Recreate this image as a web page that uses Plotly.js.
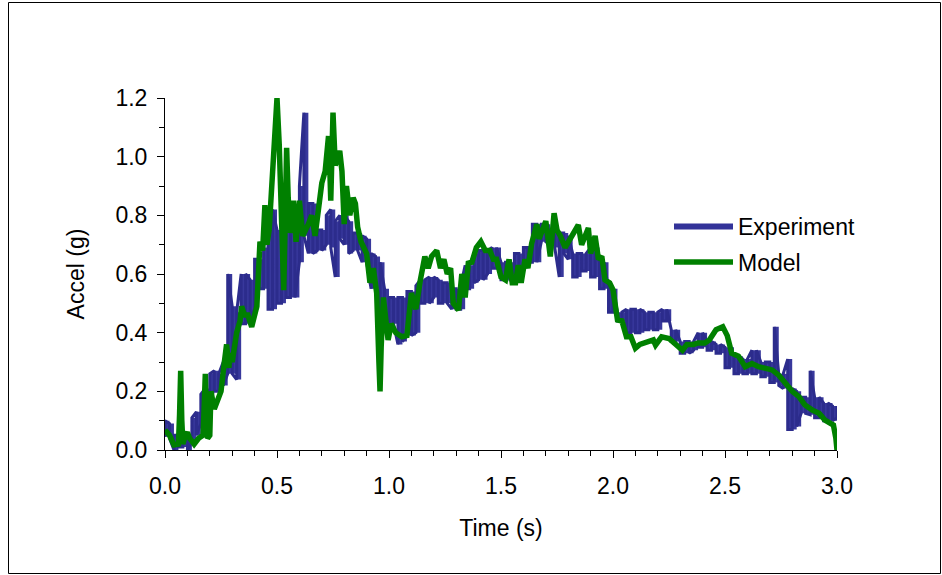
<!DOCTYPE html>
<html>
<head>
<meta charset="utf-8">
<script src="https://cdn.plot.ly/plotly-3.0.1.min.js"></script>
<style>
html,body{margin:0;padding:0;background:#fff;}
#chart{width:942px;height:575px;}
</style>
</head>
<body>
<div id="chart"></div>
<script>
// Experiment: sampled every 0.02 s, lower and upper envelope of the noisy signal (g)
var expStep = 0.02;
var expLow = [0.045,0.04,0.0,0.01,0.01,0.0,0.03,0.05,0.09,0.12,
  0.19,0.20,0.20,0.22,0.26,0.26,0.24,0.43,0.43,0.45,
  0.48,0.55,0.55,0.48,0.48,0.50,0.50,0.52,0.52,0.52,
  0.64,0.73,0.67,0.67,0.68,0.68,0.70,0.69,0.59,0.72,
  0.70,0.67,0.68,0.68,0.64,0.64,0.55,0.55,0.42,0.42,
  0.43,0.43,0.36,0.37,0.39,0.39,0.40,0.50,0.50,0.50,
  0.52,0.50,0.50,0.50,0.48,0.48,0.48,0.55,0.55,0.57,
  0.58,0.58,0.60,0.62,0.62,0.58,0.58,0.58,0.58,0.58,
  0.62,0.64,0.64,0.64,0.71,0.71,0.70,0.69,0.59,0.67,
  0.65,0.59,0.59,0.61,0.61,0.59,0.59,0.55,0.55,0.47,
  0.47,0.44,0.44,0.40,0.40,0.40,0.40,0.41,0.41,0.41,
  0.41,0.44,0.44,0.37,0.37,0.33,0.33,0.33,0.34,0.35,
  0.35,0.34,0.34,0.33,0.33,0.28,0.28,0.26,0.26,0.26,
  0.26,0.26,0.26,0.25,0.25,0.23,0.23,0.22,0.21,0.07,
  0.07,0.08,0.125,0.125,0.12,0.11,0.11,0.10,0.10,0.10,
  0.11];
var expHigh = [0.10,0.09,0.05,0.05,0.04,0.05,0.11,0.13,0.19,0.21,
  0.26,0.27,0.26,0.30,0.60,0.49,0.47,0.60,0.60,0.58,
  0.65,0.65,0.69,0.82,0.82,0.75,0.80,0.80,0.74,0.80,
  0.90,1.15,0.84,0.84,0.75,0.75,0.80,0.82,0.78,0.80,
  0.80,0.78,0.74,0.74,0.73,0.72,0.67,0.66,0.64,0.55,
  0.52,0.52,0.52,0.52,0.54,0.54,0.56,0.58,0.58,0.59,
  0.59,0.58,0.57,0.57,0.55,0.55,0.56,0.63,0.63,0.67,
  0.68,0.68,0.68,0.69,0.69,0.64,0.64,0.64,0.67,0.67,
  0.69,0.69,0.77,0.77,0.77,0.77,0.75,0.75,0.74,0.74,
  0.73,0.67,0.67,0.67,0.67,0.69,0.69,0.64,0.64,0.55,
  0.55,0.47,0.47,0.48,0.48,0.48,0.48,0.47,0.47,0.47,
  0.47,0.48,0.48,0.41,0.41,0.37,0.37,0.37,0.37,0.40,
  0.40,0.37,0.37,0.36,0.36,0.35,0.35,0.32,0.32,0.31,
  0.31,0.34,0.34,0.30,0.30,0.30,0.42,0.26,0.26,0.31,
  0.21,0.20,0.18,0.18,0.27,0.18,0.18,0.16,0.16,0.15,
  0.15];

// Model
var modelTime = [0.00,0.02,0.04,0.06,0.065,0.07,0.075,0.08,0.09,0.10,
  0.11,0.13,0.15,0.17,0.175,0.18,0.185,0.19,0.20,0.205,
  0.22,0.235,0.25,0.265,0.275,0.285,0.29,0.30,0.32,0.335,
  0.342,0.355,0.37,0.387,0.40,0.41,0.424,0.436,0.446,0.455,
  0.465,0.476,0.49,0.50,0.51,0.52,0.53,0.537,0.543,0.55,
  0.56,0.573,0.585,0.60,0.615,0.64,0.655,0.67,0.68,0.70,
  0.715,0.73,0.735,0.74,0.745,0.75,0.76,0.77,0.78,0.79,
  0.80,0.81,0.825,0.84,0.85,0.86,0.875,0.90,0.915,0.93,
  0.945,0.955,0.96,0.965,0.97,0.975,0.985,0.996,1.01,1.03,
  1.057,1.08,1.10,1.12,1.14,1.16,1.175,1.19,1.213,1.23,
  1.245,1.26,1.275,1.287,1.31,1.325,1.34,1.354,1.37,1.39,
  1.41,1.43,1.45,1.466,1.48,1.50,1.52,1.536,1.55,1.565,
  1.577,1.59,1.607,1.62,1.637,1.66,1.67,1.70,1.72,1.737,
  1.75,1.765,1.786,1.81,1.845,1.86,1.89,1.90,1.92,1.935,
  1.95,1.964,1.985,2.00,2.01,2.02,2.04,2.06,2.08,2.10,
  2.12,2.15,2.18,2.19,2.217,2.25,2.29,2.31,2.33,2.36,
  2.38,2.41,2.43,2.46,2.49,2.51,2.53,2.56,2.59,2.62,
  2.65,2.68,2.71,2.74,2.77,2.80,2.83,2.857,2.89,2.92,
  2.946,2.984,2.995,3.00];
var modelAccel = [0.068,0.05,0.017,0.02,0.12,0.27,0.10,0.02,0.05,0.06,
  0.04,0.02,0.04,0.05,0.15,0.26,0.12,0.04,0.05,0.20,
  0.14,0.17,0.20,0.30,0.36,0.28,0.33,0.30,0.40,0.44,
  0.49,0.46,0.46,0.42,0.46,0.49,0.71,0.68,0.835,0.70,
  0.75,0.89,1.02,1.2,1.04,0.80,0.545,0.80,1.03,0.86,
  0.74,0.85,0.71,0.85,0.73,0.77,0.80,0.73,0.78,0.91,
  0.95,1.07,0.98,0.85,1.0,1.15,0.97,1.0,1.02,0.95,
  0.77,0.90,0.80,0.86,0.84,0.76,0.71,0.67,0.57,0.62,
  0.535,0.30,0.20,0.35,0.41,0.52,0.45,0.375,0.43,0.40,
  0.386,0.39,0.535,0.48,0.58,0.66,0.62,0.66,0.68,0.62,
  0.65,0.60,0.62,0.50,0.477,0.60,0.52,0.637,0.64,0.69,
  0.71,0.68,0.68,0.65,0.65,0.59,0.58,0.65,0.57,0.57,
  0.63,0.57,0.65,0.62,0.705,0.77,0.72,0.78,0.66,0.807,
  0.75,0.73,0.69,0.72,0.767,0.70,0.757,0.67,0.73,0.65,
  0.66,0.58,0.57,0.546,0.50,0.443,0.44,0.386,0.386,0.347,
  0.36,0.37,0.375,0.358,0.386,0.38,0.352,0.34,0.36,0.36,
  0.365,0.365,0.375,0.41,0.42,0.39,0.33,0.32,0.284,0.295,
  0.284,0.28,0.273,0.255,0.228,0.20,0.182,0.153,0.136,0.125,
  0.102,0.085,0.04,0.0];

var seriesNames = ["Experiment", "Model"];
var seriesColors = ["#333399", "#008000"];
var yTickVals = [0.0,0.2,0.4,0.6,0.8,1.0,1.2];
var xTickVals = [0.0,0.5,1.0,1.5,2.0,2.5,3.0];

// Sample times of the experiment envelopes
var expTime = [];
for (var k = 0; k < expLow.length; k++) expTime.push(+(k * expStep).toFixed(2));

// Vertical strokes between the envelopes (gives the hatched look)
var ex = [], ey = [];
for (var i = 0; i < expLow.length; i++) {
  if (i % 2 === 0) { ex.push(expTime[i], expTime[i]); ey.push(expLow[i], expHigh[i]); }
  else { ex.push(expTime[i], expTime[i]); ey.push(expHigh[i], expLow[i]); }
}

var font = "Arial, 'Liberation Sans', sans-serif";
var fs = 23;

var traces = [
  {x: expTime, y: expLow, mode: "lines", showlegend: false, hoverinfo: "skip",
   line: {color: seriesColors[0], width: 0, shape: "hv"}},
  {x: expTime, y: expHigh, mode: "lines", showlegend: false, hoverinfo: "skip",
   fill: "tonexty", fillcolor: "#38389c",
   line: {color: seriesColors[0], width: 0, shape: "hv"}},
  {x: ex, y: ey, mode: "lines", name: seriesNames[0], showlegend: false,
   line: {color: "#2c2c8c", width: 3}, hoverinfo: "skip"},
  {x: modelTime, y: modelAccel, mode: "lines", name: seriesNames[1], showlegend: false,
   line: {color: seriesColors[1], width: 5.5, shape: "linear"}}
];

var layout = {
  width: 942, height: 575,
  margin: {l: 165, r: 105, t: 98, b: 125},
  paper_bgcolor: "#ffffff", plot_bgcolor: "#ffffff",
  font: {family: font, size: fs, color: "#000"},
  showlegend: false,
  xaxis: {
    range: [0, 3.0], tickvals: xTickVals, tickformat: ".1f",
    showgrid: false, zeroline: false, showline: true, linecolor: "#000", linewidth: 1,
    ticks: "outside", ticklen: 7, tickcolor: "#000", tickwidth: 1,
    minor: {dtick: 0.1, ticks: "outside", ticklen: 5, tickcolor: "#000", showgrid: false},
    ticklabelstandoff: 8,
    title: {text: "Time (s)", font: {size: fs}, standoff: 22},
    tickfont: {size: fs}
  },
  yaxis: {
    range: [0, 1.2], tickvals: yTickVals, tickformat: ".1f",
    showgrid: false, zeroline: false, showline: true, linecolor: "#000", linewidth: 1,
    ticks: "outside", ticklen: 7, tickcolor: "#000", tickwidth: 1,
    minor: {dtick: 0.1, ticks: "outside", ticklen: 5, tickcolor: "#000", showgrid: false},
    ticklabelstandoff: 5,
    title: {text: "Accel (g)", font: {size: fs}, standoff: 24},
    tickfont: {size: fs}
  },
  shapes: [
    {type: "rect", xref: "paper", yref: "paper",
     x0: (8.5 - 165) / 672, x1: (940.5 - 165) / 672,
     y0: (450 - 573.5) / 352, y1: (450 - 2.5) / 352,
     line: {color: "#000", width: 1}, fillcolor: "rgba(0,0,0,0)", layer: "below"},
    {type: "line", xref: "paper", yref: "paper",
     x0: (674 - 165) / 672, x1: (733 - 165) / 672,
     y0: (450 - 226.5) / 352, y1: (450 - 226.5) / 352,
     line: {color: seriesColors[0], width: 6}},
    {type: "line", xref: "paper", yref: "paper",
     x0: (674 - 165) / 672, x1: (733 - 165) / 672,
     y0: (450 - 262) / 352, y1: (450 - 262) / 352,
     line: {color: seriesColors[1], width: 5.5}}
  ],
  annotations: [
    {xref: "paper", yref: "paper", x: (736 - 165) / 672, y: (450 - 227) / 352,
     xanchor: "left", yanchor: "middle", showarrow: false, text: seriesNames[0],
     font: {size: fs, family: font, color: "#000"}},
    {xref: "paper", yref: "paper", x: (736 - 165) / 672, y: (450 - 263) / 352,
     xanchor: "left", yanchor: "middle", showarrow: false, text: seriesNames[1],
     font: {size: fs, family: font, color: "#000"}}
  ]
};

Plotly.newPlot("chart", traces, layout, {displayModeBar: false, staticPlot: true});
</script>
</body>
</html>
